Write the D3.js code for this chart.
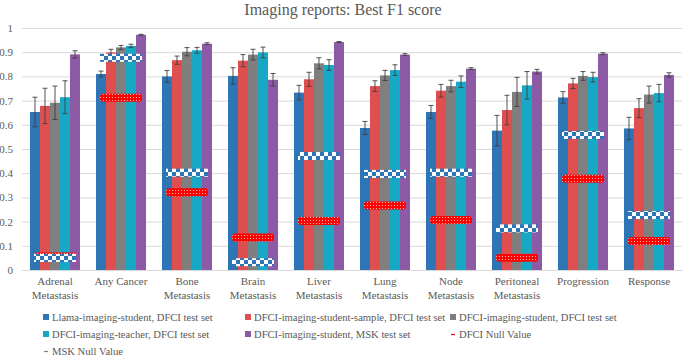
<!DOCTYPE html>
<html>
<head>
<meta charset="utf-8">
<script src="https://cdn.jsdelivr.net/npm/d3@7"></script>
<style>
  body { margin: 0; background: #fff; }
  text { font-family: "Liberation Serif", serif; fill: #595959; }
</style>
</head>
<body>
<div id="chart"></div>
<script>
// chart data
var categories = ["Adrenal Metastasis", "Any Cancer", "Bone Metastasis", "Brain Metastasis", "Liver Metastasis",
                  "Lung Metastasis", "Node Metastasis", "Peritoneal Metastasis", "Progression", "Response"];
var series_names = ["Llama-imaging-student, DFCI test set", "DFCI-imaging-student-sample, DFCI test set",
                    "DFCI-imaging-student, DFCI test set", "DFCI-imaging-teacher, DFCI test set",
                    "DFCI-imaging-student, MSK test set"];
var series_colors = ["#2e75b6", "#e04f4f", "#7f7f7f", "#17a8c6", "#8d5ba6"];

var llama_values  = [0.653, 0.810, 0.800, 0.802, 0.733, 0.587, 0.653, 0.576, 0.713, 0.585];
var sample_values = [0.678, 0.899, 0.867, 0.865, 0.788, 0.760, 0.741, 0.661, 0.771, 0.669];
var student_values = [0.691, 0.920, 0.902, 0.890, 0.854, 0.804, 0.760, 0.736, 0.802, 0.725];
var teacher_values = [0.714, 0.926, 0.908, 0.899, 0.847, 0.826, 0.778, 0.763, 0.797, 0.731];
var msk_values    = [0.891, 0.972, 0.935, 0.786, 0.942, 0.890, 0.832, 0.820, 0.894, 0.806];

var llama_err   = [0.061, 0.012, 0.024, 0.034, 0.030, 0.027, 0.027, 0.063, 0.024, 0.046];
var sample_err  = [0.073, 0.013, 0.017, 0.025, 0.029, 0.022, 0.026, 0.061, 0.021, 0.039];
var student_err = [0.069, 0.008, 0.017, 0.022, 0.023, 0.021, 0.024, 0.060, 0.018, 0.035];
var teacher_err = [0.068, 0.007, 0.012, 0.022, 0.022, 0.022, 0.024, 0.057, 0.020, 0.036];
var msk_err     = [0.015, 0.002, 0.004, 0.026, 0.002, 0.004, 0.004, 0.009, 0.004, 0.009];

var dfci_null = [0.056, 0.712, 0.321, 0.134, 0.202, 0.267, 0.207, 0.051, 0.377, 0.120];
var msk_null  = [0.050, 0.877, 0.402, 0.032, 0.471, 0.397, 0.402, 0.172, 0.558, 0.227];

var y_ticks = [0, 0.1, 0.2, 0.3, 0.4, 0.5, 0.6, 0.7, 0.8, 0.9, 1];

var all_values = [llama_values, sample_values, student_values, teacher_values, msk_values];
var all_errs = [llama_err, sample_err, student_err, teacher_err, msk_err];

var font = "'Liberation Serif', serif";
var svg = d3.select("#chart").append("svg").attr("width", 683).attr("height", 358);

// patterns for the null value markers
var defs = svg.append("defs");
var checker = defs.append("pattern").attr("id", "checker").attr("patternUnits", "userSpaceOnUse")
    .attr("width", 8).attr("height", 8);
checker.append("rect").attr("width", 8).attr("height", 8).attr("fill", "#fff");
checker.append("rect").attr("width", 4).attr("height", 4).attr("fill", "#2e75b6");
checker.append("rect").attr("x", 4).attr("y", 4).attr("width", 4).attr("height", 4).attr("fill", "#2e75b6");

var dots = defs.append("pattern").attr("id", "dots").attr("patternUnits", "userSpaceOnUse")
    .attr("width", 3).attr("height", 3);
dots.append("rect").attr("width", 3).attr("height", 3).attr("fill", "#ff0000");
dots.append("circle").attr("cx", 1.5).attr("cy", 1.5).attr("r", 0.6).attr("fill", "#ffd0d0");

var x0 = d3.scaleBand().domain(categories).range([22, 682]).paddingInner(0.242).paddingOuter(0.121);
var x1 = d3.scaleBand().domain(d3.range(series_names.length)).range([0, x0.bandwidth()]);
var y = d3.scaleLinear().domain([0, 1]).range([270, 28]);

// title
svg.append("text").attr("x", 343).attr("y", 15).attr("text-anchor", "middle")
    .style("font-family", font).attr("font-size", 16).text("Imaging reports: Best F1 score");

// grid + y axis
var yAxis = d3.axisLeft(y).tickValues(y_ticks).tickSize(-660).tickFormat(d3.format(".1~f"));
var yg = svg.append("g").attr("transform", "translate(22,0)").call(yAxis);
yg.select(".domain").remove();
yg.selectAll("line").attr("stroke", "#d9d9d9");
yg.selectAll("text").attr("x", -9).attr("font-size", 11).style("font-family", font).attr("fill", "#595959");

// x axis, "Metastasis" labels wrap onto a second line
var xAxis = d3.axisBottom(x0).tickSize(0).tickPadding(7);
var xg = svg.append("g").attr("transform", "translate(0,270)").call(xAxis);
xg.select(".domain").attr("stroke", "#d9d9d9");
xg.selectAll("text").attr("font-size", 11).style("font-family", font).attr("fill", "#595959")
    .each(function(d) {
        var lines = d.indexOf(" Metastasis") > 0 ? [d.replace(" Metastasis", ""), "Metastasis"] : [d];
        var t = d3.select(this).text(null);
        lines.forEach(function(w, i) {
            t.append("tspan").attr("x", 0).attr("dy", i == 0 ? "0.71em" : "1.25em").text(w);
        });
    });

// bars
var groups = svg.append("g").selectAll("g").data(categories).join("g")
    .attr("transform", function(d) { return "translate(" + x0(d) + ",0)"; });

groups.selectAll("rect").data(function(d, ci) {
    return all_values.map(function(v, si) { return {s: si, v: v[ci], e: all_errs[si][ci]}; });
}).join("rect")
    .attr("x", function(d) { return x1(d.s); })
    .attr("width", x1.bandwidth())
    .attr("y", function(d) { return y(d.v); })
    .attr("height", function(d) { return y(0) - y(d.v); })
    .attr("fill", function(d) { return series_colors[d.s]; });

// error bars
groups.each(function(d, ci) {
    var g = d3.select(this);
    all_values.forEach(function(v, si) {
        var cx = x1(si) + x1.bandwidth() / 2;
        var top = y(v[ci] + all_errs[si][ci]);
        var bot = y(v[ci] - all_errs[si][ci]);
        g.append("line").attr("x1", cx).attr("x2", cx).attr("y1", top).attr("y2", bot)
            .attr("stroke", "#404040").attr("stroke-width", 0.9);
        [top, bot].forEach(function(yy) {
            g.append("line").attr("x1", cx - 2.5).attr("x2", cx + 2.5).attr("y1", yy).attr("y2", yy)
                .attr("stroke", "#404040").attr("stroke-width", 0.9);
        });
    });
});

// null value markers
var null_w = 42, null_h = 8;
svg.append("g").selectAll("rect").data(categories).join("rect")
    .attr("x", function(d) { return x0(d) + x0.bandwidth() / 2 - null_w / 2; })
    .attr("y", function(d, i) { return y(dfci_null[i]) - null_h / 2; })
    .attr("width", null_w).attr("height", null_h).attr("rx", 3)
    .attr("fill", "url(#dots)");
svg.append("g").selectAll("rect").data(categories).join("rect")
    .attr("x", function(d) { return x0(d) + x0.bandwidth() / 2 - null_w / 2; })
    .attr("y", function(d, i) { return y(msk_null[i]) - null_h / 2; })
    .attr("width", null_w).attr("height", null_h)
    .attr("fill", "url(#checker)");

// legend
var legend_items = series_names.map(function(n, i) { return {name: n, color: series_colors[i], kind: "box"}; });
legend_items.push({name: "DFCI Null Value", color: "#ff0000", kind: "dash"});
legend_items.push({name: "MSK Null Value", color: "#7f7f7f", kind: "dash"});

var leg_x = [43, 245, 450];
var leg_y = [317, 334, 351];
var leg = svg.append("g").selectAll("g").data(legend_items).join("g")
    .attr("transform", function(d, i) { return "translate(" + leg_x[i % 3] + "," + leg_y[Math.floor(i / 3)] + ")"; });
leg.filter(function(d) { return d.kind == "box"; }).append("rect")
    .attr("x", 0).attr("y", -3).attr("width", 6).attr("height", 6).attr("fill", function(d) { return d.color; });
leg.filter(function(d) { return d.kind == "dash"; }).append("line")
    .attr("x1", 1).attr("x2", 5).attr("y1", 0.5).attr("y2", 0.5)
    .attr("stroke", function(d) { return d.color; }).attr("stroke-width", 1.2);
leg.append("text").attr("x", 9).attr("y", 0).attr("dy", "0.35em").attr("font-size", 10.6)
    .style("font-family", font).attr("fill", "#595959")
    .text(function(d) { return d.name; });
</script>
</body>
</html>
